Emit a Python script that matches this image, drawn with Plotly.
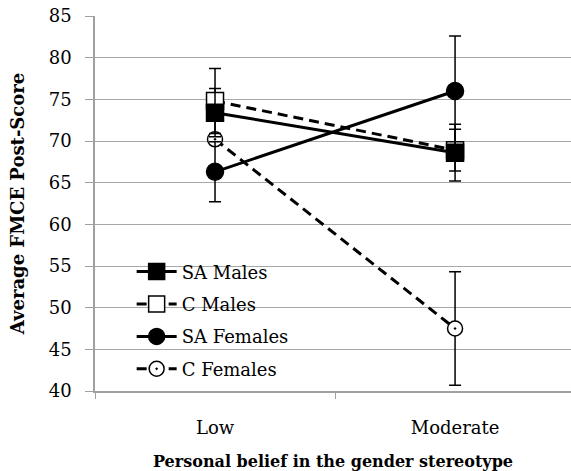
import plotly.graph_objects as go

categories = ["Low", "Moderate"]
sa_males = [73.4, 68.6]
sa_males_err = [2.9, 3.4]
c_males = [74.8, 68.9]
c_males_err = [3.9, 2.5]
sa_females = [66.3, 76.0]
sa_females_err = [3.6, 6.6]
c_females = [70.2, 47.5]
c_females_err = [0.5, 6.8]

y_ticks = [40, 45, 50, 55, 60, 65, 70, 75, 80, 85]

FONT = "DejaVu Serif"

series = [
    # name, values, errors, dash, symbol, fill, legend rank, size
    ("C Females", c_females, c_females_err, "10px,6px", "circle-dot", "white", 4, 15),
    ("C Males", c_males, c_males_err, "10px,6px", "square", "white", 2, 17),
    ("SA Females", sa_females, sa_females_err, "solid", "circle", "black", 3, 17),
    ("SA Males", sa_males, sa_males_err, "solid", "square", "black", 1, 17),
]

fig = go.Figure()
for name, vals, errs, dash, sym, fill, rank, size in series:
    fig.add_trace(go.Scatter(
        x=categories, y=vals, name=name, mode="lines+markers",
        legendgroup=name, legendrank=rank,
        line=dict(color="black", width=3, dash=dash),
        marker=dict(symbol=sym, size=size, color=fill,
                    line=dict(color="black", width=1.5)),
        error_y=dict(type="data", array=errs, visible=True,
                     color="black", thickness=1.5, width=6),
    ))

fig.update_layout(
    width=571, height=471,
    margin=dict(l=95, r=0, t=16, b=80, autoexpand=False),
    paper_bgcolor="white", plot_bgcolor="white",
    font=dict(family=FONT, size=18, color="black"),
    showlegend=True,
    legend=dict(x=0.077, y=0.367, xanchor="left", yanchor="top",
                bgcolor="rgba(0,0,0,0)", tracegroupgap=6,
                itemwidth=40, font=dict(family=FONT, size=18)),
    xaxis=dict(
        type="category", range=[-0.5, 1.483], automargin=False,
        tickson="boundaries", ticks="outside", ticklen=6, tickcolor="#a0a0a0",
        ticklabelstandoff=20,
        showline=True, linecolor="#a0a0a0", linewidth=1.5,
        showgrid=False,
        title=dict(text="<b>Personal belief in the gender stereotype</b>",
                   font=dict(family=FONT, size=16), standoff=18),
        tickfont=dict(family=FONT, size=18),
    ),
    yaxis=dict(
        range=[40, 85], tickvals=y_ticks, automargin=False,
        ticks="outside", ticklen=8, tickcolor="#a0a0a0",
        ticklabelstandoff=10,
        showline=True, linecolor="#a0a0a0", linewidth=1.5,
        showgrid=True, gridcolor="#a8a8a8", gridwidth=1.2,
        zeroline=False,
        title=dict(text="<b>Average FMCE Post-Score</b>",
                   font=dict(family=FONT, size=18), standoff=19),
        tickfont=dict(family=FONT, size=18),
    ),
)

fig.write_html(
    "out.html",
    config={"displayModeBar": False},
    post_script="document.body.style.margin='0';document.body.style.overflow='hidden';",
)
